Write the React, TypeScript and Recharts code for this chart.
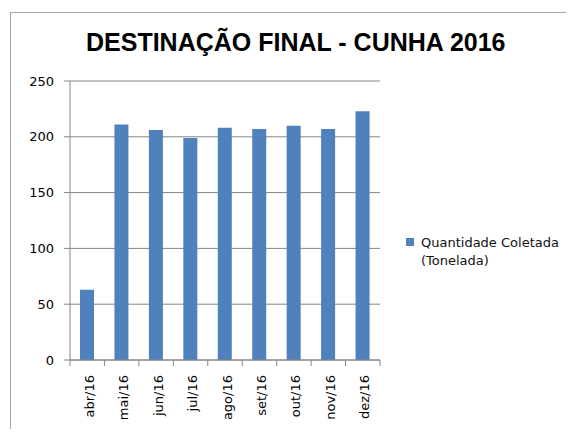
import { BarChart, Bar, XAxis, YAxis, CartesianGrid, Legend } from "recharts";

const months = ["abr/16", "mai/16", "jun/16", "jul/16", "ago/16", "set/16", "out/16", "nov/16", "dez/16"];
const quantidade = [63, 211, 206, 199, 208, 207, 210, 207, 223];
const yTicks = [0, 50, 100, 150, 200, 250];
const seriesName = "Quantidade Coletada (Tonelada)";
const title = "DESTINAÇÃO FINAL - CUNHA 2016";

const data = months.map((mes, i) => ({ mes, qtd: quantidade[i] }));

const W = 574;
const H = 437;
const BAR_COLOR = "#4f81bd";
const AXIS_GRAY = "#868686";
const FONT = "'DejaVu Sans', Verdana, sans-serif";
const margin = { top: 81, right: 194, left: 10, bottom: 0 };
// plot area spans x 70..380
const BAND = (W - margin.left - 60 - margin.right) / months.length;
const X_TICK_OFFSET = 15; // tickSize 0 + tickMargin 15

// category label, plus the tick mark on the left boundary of each band
function MonthTick(props: any) {
  const { x, y, payload, index } = props;
  const axisY = y - X_TICK_OFFSET;
  const last = index === months.length - 1;
  return (
    <g>
      <line x1={x - BAND / 2} x2={x - BAND / 2} y1={axisY} y2={axisY + 6} stroke={AXIS_GRAY} />
      {last && <line x1={x + BAND / 2} x2={x + BAND / 2} y1={axisY} y2={axisY + 6} stroke={AXIS_GRAY} />}
      <text
        x={x + 2}
        y={y}
        transform={`rotate(-90, ${x + 2}, ${y})`}
        textAnchor="end"
        dy="0.35em"
        fontSize={13}
        fontFamily={FONT}
        fill="#000"
      >
        {payload.value}
      </text>
    </g>
  );
}

function LegendContent() {
  return (
    <div style={{ display: "flex", alignItems: "flex-start", fontFamily: FONT, fontSize: 13, color: "#111" }}>
      <span style={{ width: 8, height: 8, background: BAR_COLOR, marginTop: 4, marginRight: 7, flex: "none" }} />
      <span style={{ width: 150, lineHeight: "18px" }}>{seriesName}</span>
    </div>
  );
}

export default function App() {
  return (
    <div style={{ position: "relative", width: W, height: H, margin: -8, background: "#fff", overflow: "hidden" }}>
      <BarChart width={W} height={H} data={data} margin={margin}>
        <CartesianGrid horizontal vertical={false} stroke={AXIS_GRAY} />
        <YAxis
          width={60}
          domain={[0, 250]}
          ticks={yTicks}
          interval={0}
          tickSize={6}
          tickMargin={10}
          axisLine={{ stroke: AXIS_GRAY }}
          tickLine={{ stroke: AXIS_GRAY }}
          tick={{ fill: "#000", fontSize: 13, fontFamily: FONT }}
        />
        <XAxis
          dataKey="mes"
          interval={0}
          height={77}
          tickSize={0}
          tickMargin={X_TICK_OFFSET}
          tickLine={false}
          axisLine={{ stroke: AXIS_GRAY }}
          tick={<MonthTick />}
        />
        <Legend
          layout="vertical"
          align="center"
          verticalAlign="middle"
          wrapperStyle={{ left: 406, top: 234, width: 168 }}
          content={<LegendContent />}
        />
        <Bar dataKey="qtd" name={seriesName} fill={BAR_COLOR} barSize={14} isAnimationActive={false} />
      </BarChart>
      <div
        style={{
          position: "absolute",
          left: 10,
          top: 12,
          width: 600,
          height: 500,
          borderTop: "1px solid #a6a6a6",
          borderLeft: "1px solid #a6a6a6",
          pointerEvents: "none",
        }}
      />
      <div
        style={{
          position: "absolute",
          left: 86,
          top: 30,
          whiteSpace: "nowrap",
          fontFamily: "'Liberation Sans', Arial, sans-serif",
          fontWeight: "bold",
          fontSize: 25,
          lineHeight: "25px",
          color: "#000",
        }}
      >
        {title}
      </div>
    </div>
  );
}
